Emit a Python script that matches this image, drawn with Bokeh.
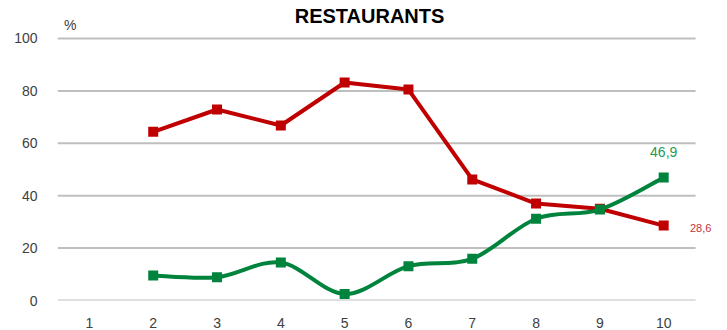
from bokeh.plotting import figure
from bokeh.models import Range1d, FixedTicker, Label
from bokeh.embed import file_html
from bokeh.resources import INLINE

categories = [1, 2, 3, 4, 5, 6, 7, 8, 9, 10]
red_x = [2, 3, 4, 5, 6, 7, 8, 9, 10]
red_values = [64.4, 72.9, 66.8, 83.2, 80.5, 46.2, 37.0, 35.0, 28.6]
green_x = [2, 3, 4, 5, 6, 7, 8, 9, 10]
green_values = [9.5, 8.9, 14.5, 2.5, 13.1, 15.9, 31.2, 34.7, 46.9]
y_ticks = [0, 20, 40, 60, 80, 100]

RED = "#C00000"
GREEN = "#00843D"
FONT = "Liberation Sans"

p = figure(width=727, height=330, output_backend="svg", toolbar_location=None,
           x_range=Range1d(0.5, 11.0), y_range=Range1d(0, 114.5),
           min_border_left=57, min_border_right=0, min_border_top=0,
           min_border_bottom=30)
p.outline_line_color = None
p.xgrid.grid_line_color = None
p.ygrid.grid_line_color = None
p.xaxis.ticker = FixedTicker(ticks=categories)
p.yaxis.ticker = FixedTicker(ticks=y_ticks)
for ax in (p.xaxis, p.yaxis):
    ax.axis_line_color = None
    ax.major_tick_line_color = None
    ax.minor_tick_line_color = None
    ax.major_label_text_font = FONT
    ax.major_label_text_font_size = "14px"
    ax.major_label_text_color = "#404040"
p.xaxis.major_label_standoff = 11
p.yaxis.major_label_standoff = 14

# horizontal gridlines spanning the category band
p.segment(x0=[categories[0] - 0.5] * len(y_ticks), y0=y_ticks,
          x1=[categories[-1] + 0.5] * len(y_ticks), y1=y_ticks,
          line_color="#BFBFBF", line_width=2)

# red line
p.line(red_x, red_values, line_color=RED, line_width=4)
p.scatter(red_x, red_values, marker="square", size=10, fill_color=RED, line_color=None)

# green smoothed line (Catmull-Rom through the data points)
x0, y0, x1, y1, cx0, cy0, cx1, cy1 = [], [], [], [], [], [], [], []
n = len(green_x)
for i in range(n - 1):
    pa = (green_x[max(i - 1, 0)], green_values[max(i - 1, 0)])
    pb = (green_x[i], green_values[i])
    pc = (green_x[i + 1], green_values[i + 1])
    pd = (green_x[min(i + 2, n - 1)], green_values[min(i + 2, n - 1)])
    x0.append(pb[0]); y0.append(pb[1])
    x1.append(pc[0]); y1.append(pc[1])
    cx0.append(pb[0] + (pc[0] - pa[0]) / 6); cy0.append(pb[1] + (pc[1] - pa[1]) / 6)
    cx1.append(pc[0] - (pd[0] - pb[0]) / 6); cy1.append(pc[1] - (pd[1] - pb[1]) / 6)
p.bezier(x0=x0, y0=y0, x1=x1, y1=y1, cx0=cx0, cy0=cy0, cx1=cx1, cy1=cy1,
         line_color=GREEN, line_width=4)
p.scatter(green_x, green_values, marker="square", size=10, fill_color=GREEN, line_color=None)

p.add_layout(Label(x=5.39, y=108.4, text="RESTAURANTS", text_font=FONT,
                   text_font_style="bold", text_font_size="20px", text_color="#000000",
                   text_align="center", text_baseline="middle"))
p.add_layout(Label(x=0.70, y=105, text="%", text_font=FONT, text_font_size="14px",
                   text_color="#404040", text_align="center", text_baseline="middle"))
p.add_layout(Label(x=green_x[-1], y=green_values[-1] + 9.6, text="46,9", text_font=FONT,
                   text_font_size="14px", text_color="#1E9A55", text_align="center",
                   text_baseline="middle"))
p.add_layout(Label(x=red_x[-1] + 0.58, y=red_values[-1] - 1.1, text="28,6", text_font=FONT,
                   text_font_size="11px", text_color="#C8303A", text_align="center",
                   text_baseline="middle"))

open("out.html", "w").write(file_html(p, INLINE))
